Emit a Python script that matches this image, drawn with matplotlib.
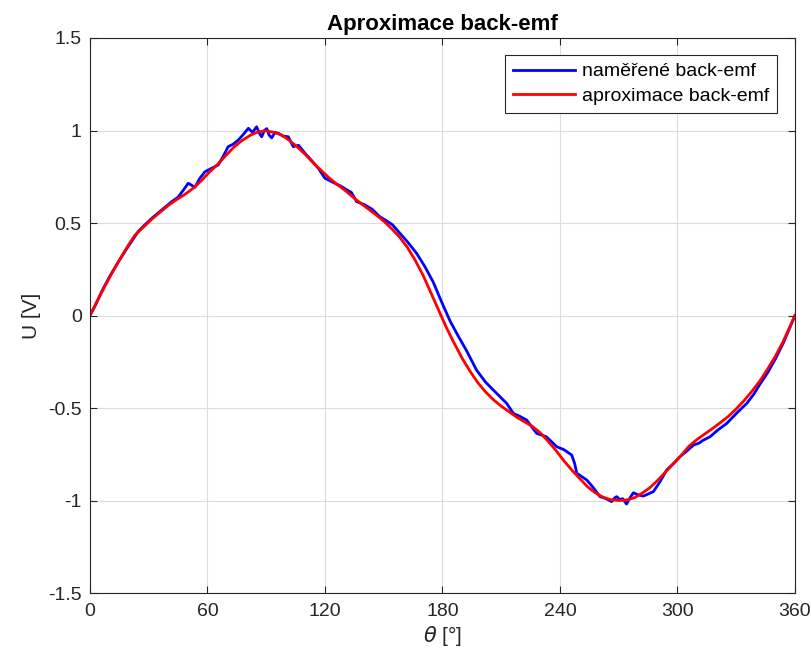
import matplotlib.pyplot as plt

theta_meas = [0, 3, 6, 10, 14.5, 19, 24.7, 28, 31.5, 36, 41.7, 45, 47.7, 50.2,
              53.6, 56, 58.7, 62, 65.5, 68, 70.6, 73, 75.8, 78, 80.9, 83, 85.1,
              86.5, 87.7, 89, 90.3, 91.5, 92.8, 94.5, 96.2, 98.5, 101.3, 103.8,
              106.5, 109.8, 113, 116.6, 120, 125, 128, 131, 133.5, 136.2, 140,
              144, 148, 151, 154.5, 158.3, 162, 166.8, 171, 175.3, 179.5, 183.9,
              188, 192.3, 197.4, 202, 206, 209.5, 212.8, 216.2, 219.5, 223,
              228.1, 233, 236, 238.3, 242, 246, 247.5, 248.6, 251, 253.7, 257,
              260.4, 263.5, 266.4, 268, 269, 270.5, 272, 274, 275.8, 277.5, 280,
              282.6, 285, 287.7, 291, 294.5, 298, 301.3, 304.5, 308.2, 311, 313,
              316.7, 320.5, 325.2, 330, 335.4, 339, 342.2, 346, 350, 354, 357,
              360]
u_meas = [0, 0.06, 0.13, 0.21, 0.29, 0.365, 0.455, 0.49, 0.525, 0.565, 0.615,
          0.64, 0.678, 0.715, 0.693, 0.74, 0.777, 0.795, 0.814, 0.86, 0.913,
          0.925, 0.949, 0.975, 1.012, 0.99, 1.02, 0.985, 0.966, 1.0, 1.01,
          0.975, 0.96, 0.99, 0.985, 0.97, 0.966, 0.913, 0.92, 0.877, 0.84,
          0.796, 0.742, 0.715, 0.70, 0.68, 0.665, 0.615, 0.60, 0.575, 0.534,
          0.515, 0.49, 0.444, 0.40, 0.336, 0.265, 0.18, 0.075, -0.03, -0.11,
          -0.19, -0.295, -0.36, -0.403, -0.44, -0.475, -0.529, -0.545,
          -0.565, -0.637, -0.655, -0.685, -0.709, -0.725, -0.754, -0.80,
          -0.853, -0.87, -0.889, -0.93, -0.979, -0.99, -1.006, -0.985, -0.979,
          -0.995, -0.99, -1.019, -0.985, -0.958, -0.97, -0.976, -0.965,
          -0.952, -0.90, -0.835, -0.80, -0.763, -0.735, -0.70, -0.69, -0.675,
          -0.655, -0.62, -0.583, -0.53, -0.475, -0.425, -0.37, -0.31, -0.235,
          -0.15, -0.075, 0]

# approximation (red)
theta_aprox = [0, 4, 7.7, 11, 14.5, 19, 23, 27, 31.5, 36, 40, 44, 48.5, 53,
               57, 60.5, 65, 69, 73, 77.5, 82, 86, 90, 94, 98, 102, 106, 110,
               114, 118, 122, 126, 131, 136, 141, 146, 150, 154, 158, 162, 166,
               170, 174, 178, 182, 186, 190, 194, 198, 202, 206, 210, 214, 218,
               222, 226, 230, 234, 238, 242, 246, 250, 254, 258, 262, 266, 270,
               274, 278, 282, 286, 290, 294, 298, 302, 306, 310, 314, 318, 322,
               326, 330, 334, 338, 342, 346, 350, 354, 357, 360]
u_aprox = [0, 0.085, 0.16, 0.225, 0.29, 0.37, 0.435, 0.475, 0.52, 0.56, 0.595,
           0.625, 0.655, 0.69, 0.73, 0.77, 0.815, 0.86, 0.905, 0.945, 0.975,
           0.993, 0.998, 0.99, 0.975, 0.945, 0.91, 0.87, 0.825, 0.785, 0.745,
           0.71, 0.67, 0.625, 0.585, 0.545, 0.51, 0.47, 0.425, 0.37, 0.30,
           0.22, 0.125, 0.03, -0.065, -0.15, -0.23, -0.30, -0.362, -0.413,
           -0.455, -0.49, -0.52, -0.55, -0.575, -0.60, -0.635, -0.68, -0.73,
           -0.785, -0.835, -0.88, -0.925, -0.958, -0.982, -0.996, -1.0, -0.997,
           -0.985, -0.96, -0.93, -0.89, -0.845, -0.80, -0.755, -0.705, -0.67,
           -0.64, -0.61, -0.578, -0.545, -0.505, -0.46, -0.41, -0.355, -0.29,
           -0.22, -0.14, -0.07, 0]

x_ticks = [0, 60, 120, 180, 240, 300, 360]
y_ticks = [-1.5, -1, -0.5, 0, 0.5, 1, 1.5]
y_tick_labels = ["-1.5", "-1", "-0.5", "0", "0.5", "1", "1.5"]

plt.rcParams["font.family"] = ["Liberation Sans", "DejaVu Sans"]
dark = "#262626"

fig = plt.figure(figsize=(8.12, 6.62), dpi=100)
ax = fig.add_axes([0.1108, 0.1042, 0.8682, 0.8384])

ax.plot(theta_meas, u_meas, color="#0000ff", lw=2, label="naměřené back-emf")
ax.plot(theta_aprox, u_aprox, color="#ff0000", lw=2, label="aproximace back-emf")

ax.set_xlim(0, 360)
ax.set_ylim(-1.5, 1.5)
ax.set_xticks(x_ticks)
ax.set_yticks(y_ticks)
ax.set_yticklabels(y_tick_labels)
ax.grid(True, color="#dcdcdc", lw=0.8)
ax.set_axisbelow(True)
ax.tick_params(direction="in", top=True, right=True, length=5, width=0.8,
               colors=dark, labelsize=14)
ax.tick_params(axis="x", pad=7)
ax.tick_params(axis="y", pad=6)
for s in ax.spines.values():
    s.set_color(dark)
    s.set_linewidth(0.8)

ax.set_title("Aproximace back-emf", fontsize=16, fontweight="bold", color="black", pad=6)
ax.set_xlabel(r"$\theta$ [°]", fontsize=15, color=dark, labelpad=3)
ax.set_ylabel("U [V]", fontsize=15, color=dark, labelpad=5)

leg = ax.legend(loc="upper right", bbox_to_anchor=(0.9745, 0.9694), fontsize=14,
                fancybox=False, edgecolor=dark, framealpha=1, handlelength=3.2,
                borderaxespad=0, borderpad=0.4, labelspacing=0.35, handletextpad=0.35)
leg.get_frame().set_linewidth(0.8)

plt.savefig("out.png", dpi=100)
plt.close()
